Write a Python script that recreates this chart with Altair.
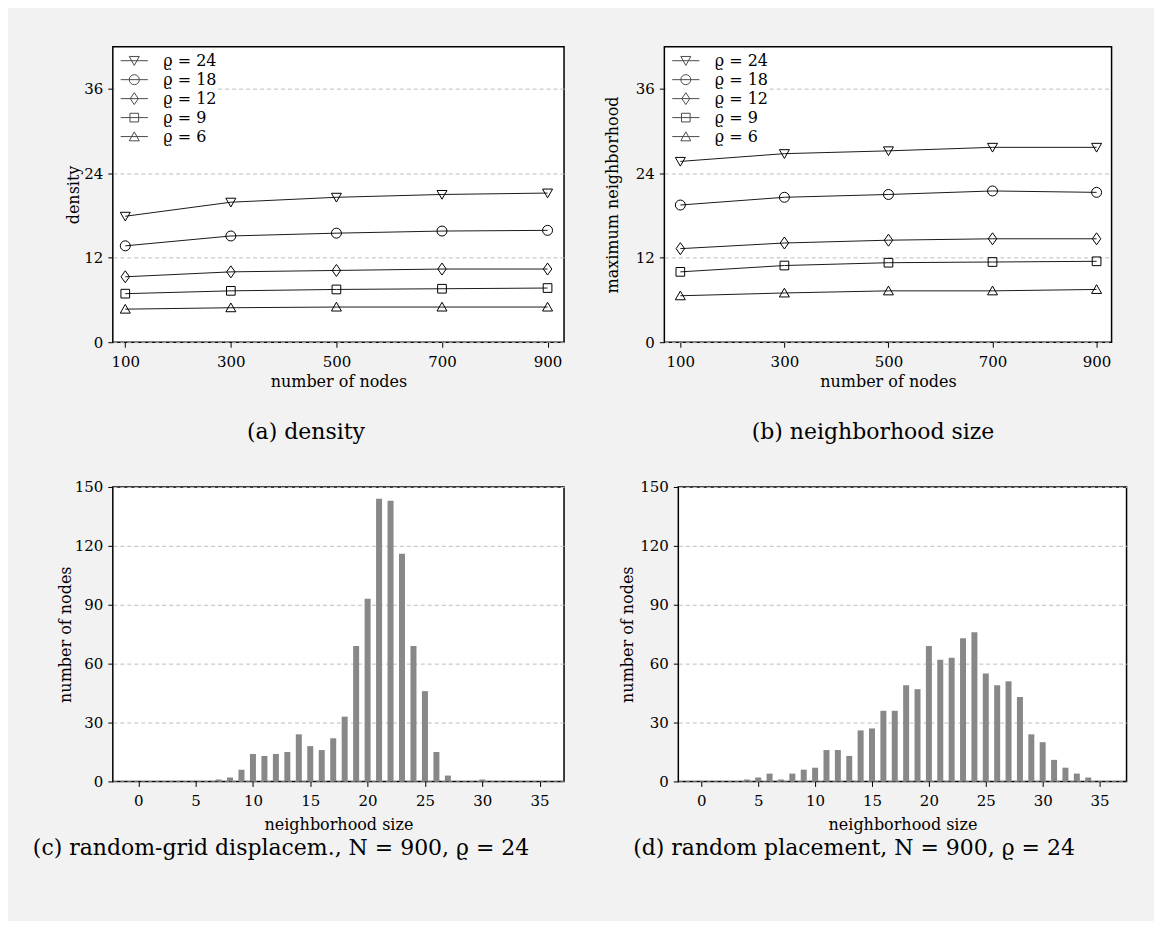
import altair as alt
import pandas as pd

FONT = "DejaVu Serif"

# ---------------- data ----------------
nodes = [100, 300, 500, 700, 900]
rho_levels = ["24", "18", "12", "9", "6"]

density_24 = [17.9, 19.9, 20.6, 21.0, 21.2]
density_18 = [13.7, 15.1, 15.5, 15.8, 15.9]
density_12 = [9.3, 10.0, 10.2, 10.4, 10.4]
density_9 = [6.9, 7.3, 7.5, 7.6, 7.7]
density_6 = [4.7, 4.9, 5.0, 5.0, 5.0]

maxnb_24 = [25.7, 26.8, 27.2, 27.7, 27.7]
maxnb_18 = [19.5, 20.6, 21.0, 21.5, 21.3]
maxnb_12 = [13.3, 14.1, 14.5, 14.7, 14.7]
maxnb_9 = [10.0, 10.9, 11.3, 11.4, 11.5]
maxnb_6 = [6.6, 7.0, 7.3, 7.3, 7.5]

grid_sizes = [7, 8, 9, 10, 11, 12, 13, 14, 15, 16, 17, 18, 19, 20, 21, 22, 23, 24, 25, 26, 27, 30]
grid_counts = [1, 2, 6, 14, 13, 14, 15, 24, 18, 16, 22, 33, 69, 93, 144, 143, 116, 69, 46, 15, 3, 1]

rand_sizes = [4, 5, 6, 7, 8, 9, 10, 11, 12, 13, 14, 15, 16, 17, 18, 19, 20, 21, 22, 23, 24, 25,
              26, 27, 28, 29, 30, 31, 32, 33, 34]
rand_counts = [1, 2, 4, 1, 4, 6, 7, 16, 16, 13, 26, 27, 36, 36, 49, 47, 69, 62, 63, 73, 76, 55,
               49, 51, 43, 24, 20, 11, 7, 4, 2]

line_ticks = [0, 12, 24, 36]
hist_yticks = [0, 30, 60, 90, 120, 150]
hist_xticks = [0, 5, 10, 15, 20, 25, 30, 35]

# marker shapes (plot) and legend symbols (line through marker)
marker_paths = [
    "M-1,-0.8L1,-0.8L0,0.95Z",
    "M1,0A1,1 0 1,1 -1,0A1,1 0 1,1 1,0Z",
    "M0,-1.2L0.85,0L0,1.2L-0.85,0Z",
    "M-0.87,-0.87H0.87V0.87H-0.87Z",
    "M-1,0.8L1,0.8L0,-0.95Z",
]
legend_paths = [
    "M-1.6,0H1.6M-0.59,-0.5L0.59,-0.5L0,0.56Z",
    "M-1.6,0H1.6M0.59,0A0.59,0.59 0 1,1 -0.59,0A0.59,0.59 0 1,1 0.59,0Z",
    "M-1.6,0H1.6M0,-0.7L0.47,0L0,0.7L-0.47,0Z",
    "M-1.6,0H1.6M-0.51,-0.51H0.51V0.51H-0.51Z",
    "M-1.6,0H1.6M-0.59,0.5L0.59,0.5L0,-0.56Z",
]


def long_table(series):
    rows = []
    for rho, vals in zip(rho_levels, series):
        for n, v in zip(nodes, vals):
            rows.append({"nodes": n, "value": v, "rho": rho})
    return pd.DataFrame(rows)


df_density = long_table([density_24, density_18, density_12, density_9, density_6])
df_maxnb = long_table([maxnb_24, maxnb_18, maxnb_12, maxnb_9, maxnb_6])
df_grid = pd.DataFrame({"size": grid_sizes, "count": grid_counts})
df_rand = pd.DataFrame({"size": rand_sizes, "count": rand_counts})

GRID = dict(grid=True, gridDash=[4, 3], gridColor="#bdbdbd", gridWidth=1, labelPadding=5)


def line_panel(df, ytitle, caption, cap_dx, tpad, w, xdom):
    x = alt.X("nodes:Q", scale=alt.Scale(domain=xdom, nice=False, zero=False, padding=0),
              axis=alt.Axis(values=nodes, title="number of nodes", grid=False,
                            labelPadding=7, titlePadding=4))
    y = alt.Y("value:Q", scale=alt.Scale(domain=[0, 42], nice=False, padding=0),
              axis=alt.Axis(values=line_ticks, title=ytitle, titlePadding=tpad, **GRID))
    base = alt.Chart(df).encode(x=x, y=y)
    lines = base.mark_line(color="#1a1a1a", strokeWidth=1).encode(detail="rho:N")
    pts = base.mark_point(filled=False, color="black", strokeWidth=1, size=100, opacity=1).encode(
        shape=alt.Shape("rho:N", scale=alt.Scale(domain=rho_levels, range=marker_paths), legend=None)
    )
    leg = base.transform_filter("false").mark_point(filled=False, color="black", strokeWidth=1).encode(
        shape=alt.Shape(
            "rho:N",
            scale=alt.Scale(domain=rho_levels, range=legend_paths),
            legend=alt.Legend(
                title=None, orient="none", legendX=2, legendY=5, padding=0,
                fillColor="white", symbolSize=289, symbolStrokeWidth=1,
                symbolStrokeColor="black", symbolOffset=10.5, labelOffset=20,
                labelFont=FONT, labelFontSize=16, labelColor="black", rowPadding=2,
                labelExpr="'ϱ = ' + datum.label + '      '",
            ),
        )
    )
    return alt.layer(lines, pts, leg).resolve_scale(shape="independent").properties(
        width=w, height=296,
        title=alt.TitleParams(caption, orient="bottom", offset=33, dx=cap_dx),
    )


def hist_panel(df, caption, cap_dx, tpad, w, xdom):
    return alt.Chart(df).mark_bar(size=6, color="#888888").encode(
        x=alt.X("size:Q", scale=alt.Scale(domain=xdom, nice=False, zero=False, padding=0),
                axis=alt.Axis(values=hist_xticks, title="neighborhood size", grid=False,
                              labelPadding=7, titlePadding=8)),
        y=alt.Y("count:Q", scale=alt.Scale(domain=[0, 150], nice=False, padding=0),
                axis=alt.Axis(values=hist_yticks, title="number of nodes", titlePadding=tpad, **GRID)),
    ).properties(
        width=w, height=295,
        title=alt.TitleParams(caption, orient="bottom", offset=6, dx=cap_dx),
    )


pa = line_panel(df_density, "density", "(a) density", -32.5, 2, 452, [76.4, 931.2])
pb = line_panel(df_maxnb, "maximum neighborhood", "(b) neighborhood size", -15, 15, 448, [69.3, 928.8])
pc = hist_panel(df_grid, "(c) random-grid displacem., N = 900, ϱ = 24", -57.5, 1, 452, [-2.22, 37.13])
pd_ = hist_panel(df_rand, "(d) random placement, N = 900, ϱ = 24", -48.5, 4, 449, [-2.02, 37.37])

row1 = alt.hconcat(pa, pb, spacing=100.5, bounds="flush")
row2 = alt.hconcat(pc, pd_, spacing=114.5, bounds="flush")

chart = (
    alt.vconcat(row1, row2, spacing=35)
    .properties(padding={"left": 24, "top": 37, "right": 26, "bottom": 60})
    .configure(background="#f2f2f2")
    .configure_view(stroke="black", strokeWidth=1.5, fill="white")
    .configure_axis(
        domain=False, tickColor="black", tickSize=5, tickWidth=1,
        labelFont=FONT, labelFontSize=15, labelColor="black",
        titleFont=FONT, titleFontSize=16, titleFontWeight="normal", titleColor="black",
    )
    .configure_title(font=FONT, fontSize=22, fontWeight="normal", color="black")
)

chart.save("out.html", embed_options={"renderer": "svg", "actions": False})
